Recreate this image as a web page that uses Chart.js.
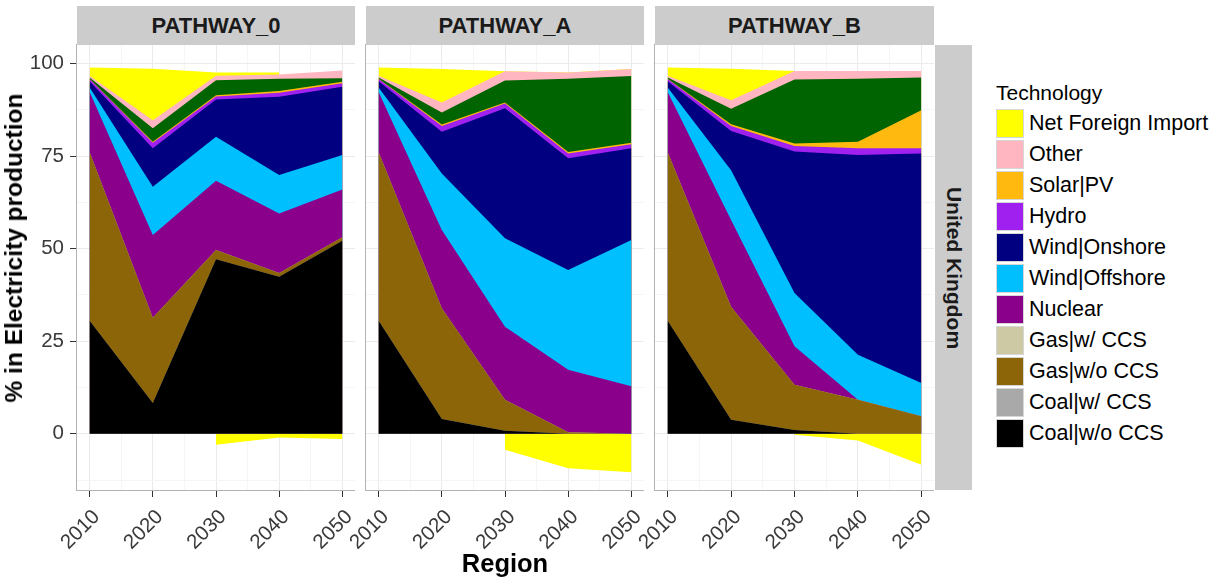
<!DOCTYPE html>
<html>
<head>
<meta charset="utf-8">
<script src="https://cdn.jsdelivr.net/npm/chart.js@4.4.1/dist/chart.umd.min.js"></script>
<style>
  html, body { margin: 0; padding: 0; background: #ffffff; }
  body { width: 1211px; height: 580px; position: relative; overflow: hidden;
         font-family: "Liberation Sans", Arial, sans-serif; }
  canvas { position: absolute; top: 0; }
  .strip { position: absolute; top: 6px; height: 39px; background: #cccccc; color: #1a1a1a;
           font-weight: bold; font-size: 22px; display: flex; align-items: center; justify-content: center; }
  .vstrip { position: absolute; left: 935px; top: 45px; width: 37px; height: 445px; background: #cccccc; }
  .vstrip span { position: absolute; left: 50%; top: 50%; white-space: nowrap; color: #1a1a1a;
                 font-weight: bold; font-size: 21px; transform: translate(-50%, -50%) rotate(90deg); }
  .ytitle { position: absolute; left: 14px; top: 248px; white-space: nowrap; font-weight: bold; font-size: 24.5px;
            color: #000; transform: translate(-50%, -50%) rotate(-90deg); }
  .xtitle { position: absolute; left: 505px; top: 548px; line-height: 30px; white-space: nowrap; font-weight: bold;
            font-size: 25.5px; color: #000; transform: translateX(-50%); }
  .legend { position: absolute; left: 996px; top: 82px; color: #000; }
  .legend .title { font-size: 21px; height: 26px; line-height: 21px; }
  .legend .row { position: absolute; left: 0; height: 31px; display: flex; align-items: center; white-space: nowrap; }
  .legend .key { width: 28px; height: 29px; box-sizing: border-box; border: 1px solid #d6d6d6; margin-right: 5px; }
  .legend .lab { font-size: 21.5px; line-height: 31px; }
</style>
</head>
<body>
<canvas id="p0" width="355" height="580" style="left:0px"></canvas>
<canvas id="p1" width="318" height="580" style="left:326px"></canvas>
<canvas id="p2" width="319" height="580" style="left:615px"></canvas>
<div id="strips"></div>
<div class="vstrip"><span id="regionLabel"></span></div>
<div class="ytitle">% in Electricity production</div>
<div class="xtitle">Region</div>
<div class="legend" id="legend"></div>
<script>
// ---- data: share of electricity production (%) by technology ----
const years = [2010, 2020, 2030, 2040, 2050];
const pathways = ['PATHWAY_0', 'PATHWAY_A', 'PATHWAY_B'];
const region = 'United Kingdom';
const xTickYears = [2010, 2020, 2030, 2040, 2050];
const yTickValues = [0, 25, 50, 75, 100];

// one row per pathway, in the order of `pathways`
const coalWoCCS    = [[30.5, 8.3, 47.1, 42.4, 52.1], [30.5, 4.0, 0.8, 0, 0],      [30.5, 3.8, 1.0, 0, 0]];
const coalWCCS     = [[0, 0, 0, 0, 0],              [0, 0, 0, 0, 0],             [0, 0, 0, 0, 0]];
const gasWoCCS     = [[45.5, 23.0, 2.5, 1.0, 1.0],  [45.5, 29.9, 8.4, 0.4, 0],   [45.5, 30.5, 12.2, 9.2, 4.7]];
const gasWCCS      = [[0, 0, 0, 0, 0],              [0, 0, 0, 0, 0],             [0, 0, 0, 0, 0]];
const nuclear      = [[16.3, 22.4, 18.7, 16.1, 12.9], [16.3, 21.1, 19.7, 16.9, 12.8], [16.3, 23.4, 10.4, 0, 0]];
const windOffshore = [[1.2, 13.0, 11.9, 10.4, 9.3], [1.2, 15.3, 23.9, 26.9, 39.5], [1.2, 13.5, 14.4, 12.1, 9.0]];
const windOnshore  = [[1.7, 10.4, 10.1, 21.1, 18.4], [1.7, 11.3, 35.1, 30.2, 24.8], [1.7, 10.6, 38.2, 54.0, 62.0]];
const hydro        = [[0.6, 1.5, 0.8, 1.1, 1.0],    [0.6, 1.5, 1.3, 1.3, 1.1],   [0.6, 1.3, 1.5, 1.8, 1.4]];
const solarPV      = [[0.1, 0.3, 0.3, 0.5, 0.4],    [0.1, 0.4, 0.3, 0.4, 0.4],   [0.1, 0.5, 0.7, 1.8, 10.3]];
const biomass      = [[0.3, 3.6, 4.1, 3.3, 0.9],    [0.3, 3.3, 5.9, 19.8, 18.0], [0.3, 4.2, 17.3, 17.0, 8.8]];
const other        = [[0.5, 2.2, 1.2, 1.1, 2.1],    [0.5, 2.7, 2.5, 1.7, 1.9],   [0.5, 2.3, 2.3, 2.1, 1.8]];
const netImport    = [[2.2, 13.9, 0.9, 0.6, null],  [2.2, 9.0, 0, 0, 0],         [2.2, 8.5, 0, 0, 0]];
const netExport    = [[null, null, -3.0, -1.0, -1.4], [null, null, -4.3, -9.3, -10.4], [null, null, -0.3, -1.8, -8.4]];

// ---- series: stack position (order 0 = bottom) and fill colour ----
const series = [
  { name: 'Net Foreign Import', values: netImport,    color: '#ffff00', order: 11, legend: true },
  { name: 'Other',              values: other,        color: '#ffb6c1', order: 10, legend: true },
  { name: 'Solar|PV',           values: solarPV,      color: '#ffb90f', order: 8,  legend: true },
  { name: 'Hydro',              values: hydro,        color: '#a020f0', order: 7,  legend: true },
  { name: 'Wind|Onshore',       values: windOnshore,  color: '#000080', order: 6,  legend: true },
  { name: 'Wind|Offshore',      values: windOffshore, color: '#00bfff', order: 5,  legend: true },
  { name: 'Nuclear',            values: nuclear,      color: '#8b008b', order: 4,  legend: true },
  { name: 'Gas|w/ CCS',         values: gasWCCS,      color: '#cdc9a5', order: 3,  legend: true },
  { name: 'Gas|w/o CCS',        values: gasWoCCS,     color: '#8b6508', order: 2,  legend: true },
  { name: 'Coal|w/ CCS',        values: coalWCCS,     color: '#a9a9a9', order: 1,  legend: true },
  { name: 'Coal|w/o CCS',       values: coalWoCCS,    color: '#000000', order: 0,  legend: true },
  { name: 'Biomass',            values: biomass,      color: '#006400', order: 9,  legend: false },
  { name: 'Net Foreign Import', values: netExport,    color: '#ffff00', order: 12, legend: false }
];

// ---- layout of the three facet panels ----
const panelGeom = [
  { canvas: 'p0', axisWidth: 77, stripLeft: 77,  stripWidth: 278, showY: true },
  { canvas: 'p1', axisWidth: 40, stripLeft: 366, stripWidth: 278, showY: false },
  { canvas: 'p2', axisWidth: 40, stripLeft: 655, stripWidth: 279, showY: false }
];

const FONT = '"Liberation Sans", Arial, sans-serif';
const GRID_MAJOR = '#ebebeb', GRID_MINOR = '#f5f5f5';

const panelBorder = {
  id: 'panelBorder',
  afterDatasetsDraw(chart) {
    const a = chart.chartArea, ctx = chart.ctx;
    ctx.save();
    ctx.strokeStyle = '#b3b3b3';
    ctx.lineWidth = 1;
    ctx.strokeRect(a.left - 0.5, a.top - 0.5, a.right - a.left + 1, a.bottom - a.top + 1);
    ctx.restore();
  }
};

const xAll = [2010, 2015, 2020, 2025, 2030, 2035, 2040, 2045, 2050];
const yAll = [-12.5, 0, 12.5, 25, 37.5, 50, 62.5, 75, 87.5, 100];

pathways.forEach((name, p) => {
  const g = panelGeom[p];
  const datasets = series.map(s => ({
    label: s.name,
    data: years.map((yr, i) => ({ x: yr, y: s.values[p][i] })),
    backgroundColor: s.color,
    borderColor: s.color,
    borderWidth: 0,
    pointRadius: 0,
    pointHoverRadius: 0,
    tension: 0,
    fill: 'origin',
    order: s.order
  }));

  new Chart(document.getElementById(g.canvas), {
    type: 'line',
    data: { datasets },
    plugins: [panelBorder],
    options: {
      responsive: false,
      animation: false,
      devicePixelRatio: 1,
      events: [],
      layout: { autoPadding: false, padding: { top: 45, left: 0, right: 0, bottom: 0 } },
      plugins: { legend: { display: false }, tooltip: { enabled: false } },
      scales: {
        x: {
          type: 'linear', min: 2008, max: 2052,
          afterBuildTicks: sc => { sc.ticks = xAll.map(v => ({ value: v })); },
          afterFit: sc => { sc.height = 90; sc.paddingLeft = 0; sc.paddingRight = 0; },
          border: { display: false },
          grid: {
            color: c => (xTickYears.includes(c.tick.value) ? GRID_MAJOR : GRID_MINOR),
            tickColor: c => (xTickYears.includes(c.tick.value) ? '#333333' : 'rgba(0,0,0,0)'),
            tickLength: 7, lineWidth: 1
          },
          ticks: {
            autoSkip: false, minRotation: 45, maxRotation: 45, padding: 8, labelOffset: 7,
            color: '#3a3a3a', font: { family: FONT, size: 20.5 },
            callback: v => (xTickYears.includes(v) ? String(v) : '')
          }
        },
        y: {
          type: 'linear', stacked: true, min: -15.2, max: 105.0,
          afterBuildTicks: sc => { sc.ticks = yAll.map(v => ({ value: v })); },
          afterFit: sc => { sc.width = g.axisWidth; sc.paddingTop = 0; sc.paddingBottom = 0; },
          border: { display: false },
          grid: {
            color: c => (yTickValues.includes(c.tick.value) ? GRID_MAJOR : GRID_MINOR),
            tickColor: c => (g.showY && yTickValues.includes(c.tick.value) ? '#333333' : 'rgba(0,0,0,0)'),
            tickLength: 7, lineWidth: 1
          },
          ticks: {
            display: g.showY, padding: 6,
            color: '#3a3a3a', font: { family: FONT, size: 20.5 },
            callback: v => (yTickValues.includes(v) ? String(v) : '')
          }
        }
      }
    }
  });

  const strip = document.createElement('div');
  strip.className = 'strip';
  strip.style.left = g.stripLeft + 'px';
  strip.style.width = g.stripWidth + 'px';
  strip.textContent = name;
  document.getElementById('strips').appendChild(strip);
});

document.getElementById('regionLabel').textContent = region;

// legend built from the same series list
const legend = document.getElementById('legend');
const title = document.createElement('div');
title.className = 'title';
title.textContent = 'Technology';
legend.appendChild(title);
series.filter(s => s.legend).forEach((s, i) => {
  const row = document.createElement('div');
  row.className = 'row';
  row.style.top = (26 + i * 31) + 'px';
  const key = document.createElement('div');
  key.className = 'key';
  key.style.background = s.color;
  const lab = document.createElement('div');
  lab.className = 'lab';
  lab.textContent = s.name;
  row.appendChild(key);
  row.appendChild(lab);
  legend.appendChild(row);
});
</script>
</body>
</html>
